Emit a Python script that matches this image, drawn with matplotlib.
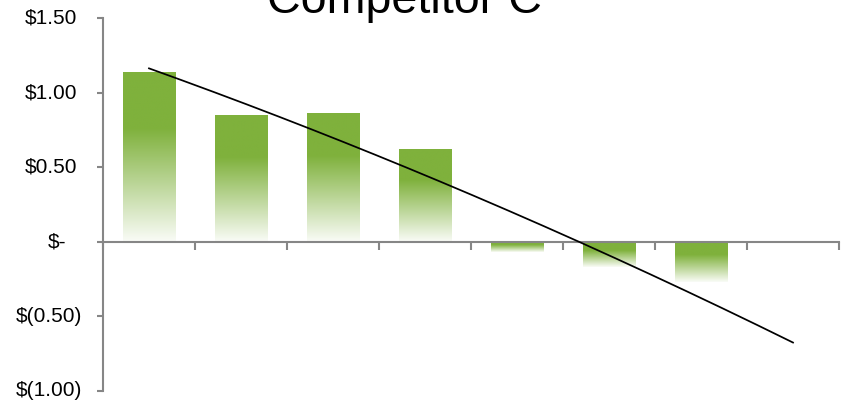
import numpy as np
import matplotlib
matplotlib.use("Agg")
import matplotlib.pyplot as plt
from matplotlib.transforms import blended_transform_factory
from matplotlib.colors import to_rgb

plt.rcParams['font.family'] = ['Liberation Sans', 'DejaVu Sans']

# Per-period values for Competitor C
periods = [1, 2, 3, 4, 5, 6, 7]
values = [1.14, 0.85, 0.86, 0.62, -0.07, -0.165, -0.27]
n_slots = 8

ytick_values = [1.5, 1.0, 0.5, 0.0, -0.5, -1.0]
ytick_labels = ["$1.50", "$1.00", "$0.50", "$-", "$(0.50)", "$(1.00)"]
title = "Competitor C"

bar_color = "#7fb13c"
axis_color = "#868686"

fig = plt.figure(figsize=(8.46, 4.0), dpi=100)
ax = fig.add_axes([103 / 846, 9 / 400, 736 / 846, (391 - 18.3) / 400])

# Bars: outline rectangles from the data, each filled with a vertical gradient
bars = ax.bar(periods, values, width=0.57, facecolor="none", linewidth=0, zorder=2)
base = np.array(to_rgb(bar_color))
t = np.linspace(0, 1, 256)
fade = np.clip((t - 0.33) / 0.67, 0, 1) * 0.96
grad = base[None, :] * (1 - fade[:, None]) + fade[:, None]
grad_img = grad[:, None, :]
for rect in bars:
    x0 = rect.get_x()
    x1 = x0 + rect.get_width()
    y0 = rect.get_y()
    y1 = y0 + rect.get_height()
    lo, hi = min(y0, y1), max(y0, y1)
    ax.imshow(grad_img, extent=[x0, x1, lo, hi], aspect="auto",
              interpolation="bilinear", zorder=2, origin="upper")

# Second-order polynomial trend, projected one period forward
coef = np.polyfit(periods, values, 2)
xt = np.linspace(periods[0], n_slots, 200)
ax.plot(xt, np.polyval(coef, xt), color="black", linewidth=1.25, zorder=3)

ax.set_xlim(0.5, n_slots + 0.5)
ax.set_ylim(-1.0, 1.5)

for side in ("top", "right"):
    ax.spines[side].set_visible(False)
ax.spines["bottom"].set_position(("data", 0))
for side in ("left", "bottom"):
    ax.spines[side].set_color(axis_color)
    ax.spines[side].set_linewidth(1.5)

ax.set_xticks(np.arange(0.5, n_slots + 1, 1.0))
ax.set_xticklabels([])
ax.tick_params(axis="x", direction="out", length=6, width=1.5, color=axis_color)
ax.set_yticks(ytick_values)
ax.set_yticklabels([])
ax.tick_params(axis="y", direction="out", length=4, width=1.5, color=axis_color)

# Accounting-style y labels, aligned on their right edges
label_right = {"$-": 66, "$(0.50)": 82, "$(1.00)": 82}
trans = blended_transform_factory(fig.transFigure, ax.transData)
for v, lab in zip(ytick_values, ytick_labels):
    xr = label_right.get(lab, 77.5)
    ax.text(xr / 846, v, lab, transform=trans, ha="right", va="center",
            fontsize=15, color="black", clip_on=False)

fig.text(404.5 / 846, (400 - 13) / 400, title, ha="center", va="baseline",
         fontsize=33.6, color="black")

fig.savefig("out.png", dpi=100)
